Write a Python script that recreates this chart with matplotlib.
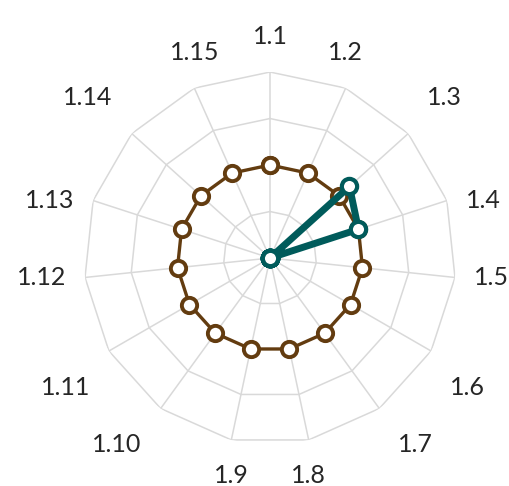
import numpy as np
import matplotlib.pyplot as plt

categories = ['1.1', '1.2', '1.3', '1.4', '1.5', '1.6', '1.7', '1.8',
              '1.9', '1.10', '1.11', '1.12', '1.13', '1.14', '1.15']
brown_values = [2, 2, 2, 2, 2, 2, 2, 2, 2, 2, 2, 2, 2, 2, 2]
teal_values = [0, 0, 2.3, 2, 0, 0, 0, 0, 0, 0, 0, 0, 0, 0, 0]
rings = [1, 2, 3, 4]

BROWN = '#633c10'
TEAL = '#005b5b'
GRID = '#d9d9d9'

n = len(categories)
angles = np.linspace(0, 2 * np.pi, n, endpoint=False)
closed = np.append(angles, angles[0])

fig = plt.figure(figsize=(5.1, 4.86), dpi=100)
ax = fig.add_axes([0.1647, 0.0864, 0.7294, 0.7654], projection='polar')
ax.set_theta_zero_location('N')
ax.set_theta_direction(-1)
ax.set_ylim(0, max(rings))
ax.grid(False)
ax.spines['polar'].set_visible(False)
ax.set_xticks([])
ax.set_yticks([])

# polygon grid
for r in rings:
    ax.plot(closed, [r] * (n + 1), color=GRID, lw=1.1, zorder=1)
for a in angles:
    ax.plot([a, a], [0, max(rings)], color=GRID, lw=1.1, zorder=1)

ax.plot(closed, brown_values + brown_values[:1], color=BROWN, lw=2.4,
        marker='o', ms=11, mfc='white', mec=BROWN, mew=2.8, zorder=3)
ax.plot(closed, teal_values + teal_values[:1], color=TEAL, lw=5,
        marker='o', ms=11, mfc='white', mec=TEAL, mew=3, zorder=4)

# category labels sit outside the outer vertex, snapped to 8 directions
for a, label in zip(angles, categories):
    s, c = np.sin(a), np.cos(a)
    sx = np.sign(s) if abs(s) > 0.45 else 0
    sy = np.sign(c) if abs(c) > 0.45 else 0
    ha = {1: 'left', -1: 'right', 0: 'center'}[int(sx)]
    ax.annotate(label, xy=(a, max(rings)), xytext=(sx * 19, sy * 36),
                textcoords='offset pixels', ha=ha, va='center',
                fontsize=18, family='Lato', color='#262626',
                annotation_clip=False)

fig.savefig('out.png', dpi=100)
